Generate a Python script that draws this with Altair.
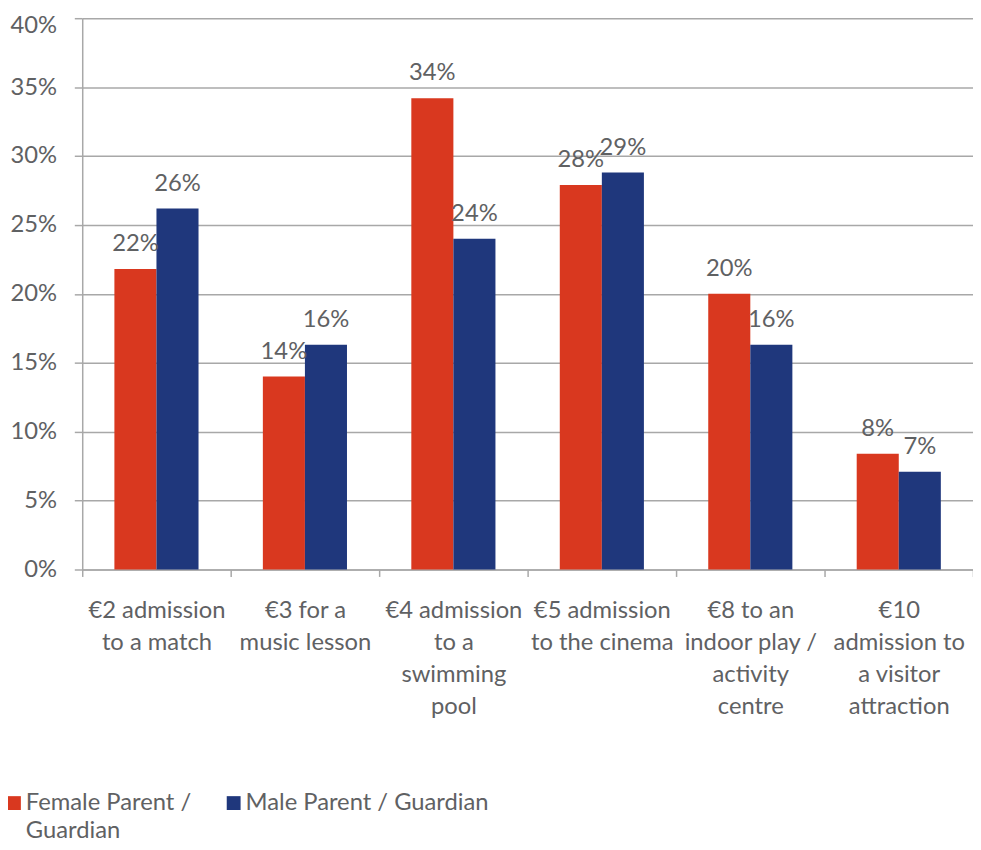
import altair as alt
import pandas as pd

categories = [
    "€2 admission|to a match",
    "€3 for a|music lesson",
    "€4 admission|to a|swimming|pool",
    "€5 admission|to the cinema",
    "€8 to an|indoor play /|activity|centre",
    "€10|admission to|a visitor|attraction",
]
series_names = ["Female Parent /|Guardian", "Male Parent / Guardian|"]
female = [21.8, 14.0, 34.2, 27.9, 20.0, 8.4]
male = [26.2, 16.3, 24.0, 28.8, 16.3, 7.1]
y_ticks = [0, 5, 10, 15, 20, 25, 30, 35, 40]

rows = []
for i, c in enumerate(categories):
    rows.append({"cat": c, "series": series_names[0], "value": female[i]})
    rows.append({"cat": c, "series": series_names[1], "value": male[i]})
df = pd.DataFrame(rows)

FONT = "Lato"
FS = 24
TXT = "#5f6163"
GRID = "#a8a8a8"

x_enc = alt.X(
    "cat:N",
    sort=categories,
    scale=alt.Scale(paddingInner=0, paddingOuter=0),
    axis=alt.Axis(
        title=None,
        labelExpr="isValid(datum.value) ? split(datum.value, '|') : ''",
        labelAngle=0,
        labelFont=FONT,
        labelFontSize=FS,
        labelColor=TXT,
        labelLineHeight=32.5,
        labelPadding=22,
        labelLimit=220,
        tickBand="extent",
        tickSize=7,
        tickColor=GRID,
        tickWidth=1.5,
        domainColor=GRID,
        domainWidth=1.5,
        grid=False,
    ),
)
y_enc = alt.Y(
    "value:Q",
    scale=alt.Scale(domain=[0, 40], nice=False),
    axis=alt.Axis(
        title=None,
        values=y_ticks,
        labelExpr="datum.value + '%'",
        labelFont=FONT,
        labelFontSize=FS,
        labelColor=TXT,
        labelPadding=18,
        labelBaseline="middle",
        labelOffset={"condition": {"test": "datum.value == 40", "value": 7}, "value": 0},
        tickSize=8,
        tickColor=GRID,
        tickWidth=1.5,
        domainColor=GRID,
        domainWidth=1.5,
        grid=True,
        gridColor=GRID,
        gridWidth=1.5,
        gridOpacity=1,
    ),
)
color_enc = alt.Color(
    "series:N",
    sort=series_names,
    scale=alt.Scale(domain=series_names, range=["#d9381f", "#1f377c"]),
    legend=alt.Legend(
        title=None,
        orient="none",
        direction="horizontal",
        legendX=-81,
        legendY=781,
        labelExpr="split(datum.label, '|')",
        labelFont=FONT,
        labelFontSize=FS,
        labelColor=TXT,
        labelLimit=400,
        labelBaseline="middle",
        labelOffset=0,
        symbolType="square",
        symbolSize=196,
        symbolStrokeWidth=0,
        symbolOpacity=1,
        columnPadding=30,
        padding=0,
    ),
)

base = alt.Chart(df)
bars = base.mark_bar(opacity=1).encode(
    x=x_enc,
    xOffset=alt.XOffset(
        "series:N", sort=series_names,
        scale=alt.Scale(paddingInner=0, paddingOuter=0.7647),
    ),
    y=y_enc,
    color=color_enc,
)
labels = base.transform_calculate(
    lab="format(datum.value, '.0f') + '%'"
).mark_text(
    baseline="bottom", dy=-13, font=FONT, fontSize=FS, color=TXT
).encode(
    x=alt.X("cat:N", sort=categories),
    xOffset=alt.XOffset("series:N", sort=series_names),
    y="value:Q",
    text="lab:N",
)

chart = (
    alt.layer(bars, labels)
    .properties(
        width=900,
        height=557,
        autosize=alt.AutoSizeParams(type="none"),
        padding={"left": 75, "top": 6, "right": 0, "bottom": 271},
        background="white",
    )
    .configure(style={"guide-label": {"lineHeight": 28}})
    .configure_view(stroke=None)
)
chart.save("out.html", embed_options={"renderer": "svg", "actions": False})
